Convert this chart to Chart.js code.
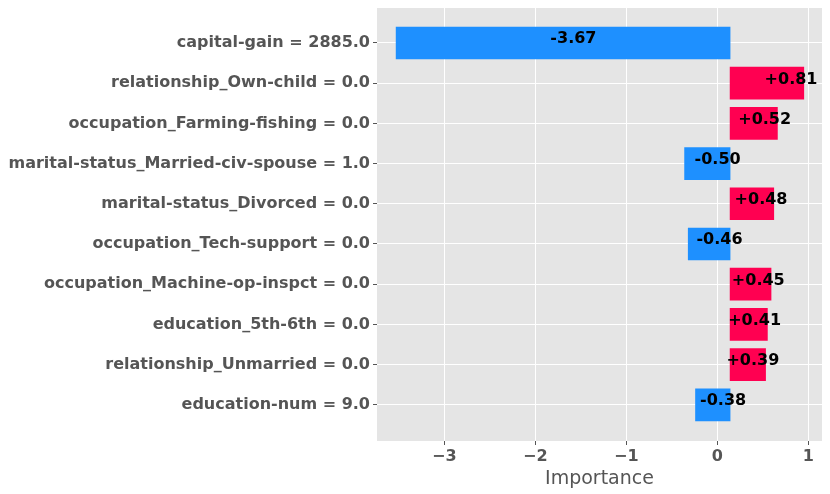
<!DOCTYPE html>
<html>
<head>
<meta charset="utf-8">
<script src="https://cdn.jsdelivr.net/npm/chart.js@4/dist/chart.umd.min.js"></script>
<style>
  html, body { margin: 0; padding: 0; background: #fff; }
  #wrap { width: 830px; height: 494px; }
</style>
</head>
<body>
<div id="wrap"><canvas id="chart"></canvas></div>
<script>
// feature labels, top to bottom
const features = [
  'capital-gain = 2885.0',
  'relationship_Own-child = 0.0',
  'occupation_Farming-fishing = 0.0',
  'marital-status_Married-civ-spouse = 1.0',
  'marital-status_Divorced = 0.0',
  'occupation_Tech-support = 0.0',
  'occupation_Machine-op-inspct = 0.0',
  'education_5th-6th = 0.0',
  'relationship_Unmarried = 0.0',
  'education-num = 9.0'
];
const importance = [-3.67, 0.81, 0.52, -0.50, 0.48, -0.46, 0.45, 0.41, 0.39, -0.38];
const baseValue = 0.14;   // bars start from here
const xTicks = [-3, -2, -1, 0, 1];

const posColor = '#FF0051';
const negColor = '#1E90FF';

// grey panel behind the plot
const panelBg = {
  id: 'panelBg',
  beforeDraw(chart) {
    const { ctx, chartArea: a } = chart;
    ctx.save();
    ctx.fillStyle = '#E5E5E5';
    ctx.fillRect(a.left, a.top, a.right - a.left, a.bottom - a.top);
    ctx.restore();
  }
};

// value text on each bar
const barText = {
  id: 'barText',
  afterDatasetsDraw(chart) {
    const { ctx, scales } = chart;
    ctx.save();
    ctx.font = 'bold 16px "DejaVu Sans"';
    ctx.fillStyle = '#000';
    ctx.textBaseline = 'alphabetic';
    importance.forEach((v, i) => {
      const y = scales.y.getPixelForValue(i) + 0.5;
      let txt, x;
      if (v >= 0) {
        txt = '+' + v.toFixed(2);
        x = scales.x.getPixelForValue(v);
        ctx.textAlign = 'center';
      } else {
        txt = v.toFixed(2);
        x = scales.x.getPixelForValue(v / 2);
        ctx.textAlign = 'left';
      }
      ctx.fillText(txt, x, y);
    });
    ctx.restore();
  }
};

const points = importance.map((v, i) => ({ x: [baseValue, baseValue + v], y: i }));

const ctx = document.getElementById('chart').getContext('2d');
new Chart(ctx, {
  type: 'bar',
  data: {
    datasets: [{
      data: points,
      backgroundColor: importance.map(v => v >= 0 ? posColor : negColor),
      borderWidth: 0,
      barThickness: 32
    }]
  },
  plugins: [panelBg, barText],
  options: {
    indexAxis: 'y',
    responsive: true,
    maintainAspectRatio: false,
    animation: false,
    layout: { padding: { left: 0, right: 8, top: 8, bottom: 0 } },
    plugins: { legend: { display: false }, tooltip: { enabled: false } },
    scales: {
      x: {
        type: 'linear',
        min: -3.74,
        max: 1.15,
        afterBuildTicks: s => { s.ticks = xTicks.map(v => ({ value: v })); },
        afterFit: s => { s.height = 53; s.paddingLeft = 0; s.paddingRight = 0; },
        ticks: {
          includeBounds: false,
          color: '#555',
          font: { family: 'DejaVu Sans', size: 16, weight: 'bold' },
          padding: 2,
          callback: v => v < 0 ? '\u2212' + Math.abs(v) : String(v)
        },
        grid: { color: '#fff', lineWidth: 1, tickLength: 4, tickColor: '#555' },
        border: { display: false },
        title: {
          display: true,
          text: 'Importance',
          color: '#555',
          font: { family: 'DejaVu Sans', size: 19 },
          padding: { top: 0, bottom: 4 }
        }
      },
      y: {
        type: 'linear',
        reverse: true,
        offset: false,
        min: -0.87,
        max: 9.9,
        afterBuildTicks: s => { s.ticks = features.map((_, i) => ({ value: i })); },
        afterFit: s => { s.width = 377; s.paddingTop = 0; s.paddingBottom = 0; },
        ticks: {
          includeBounds: false,
          color: '#555',
          font: { family: 'DejaVu Sans', size: 16, weight: 'bold' },
          padding: 3,
          callback: v => features[v]
        },
        grid: { offset: false, color: '#fff', lineWidth: 1, tickLength: 4, tickColor: '#555' },
        border: { display: false }
      }
    }
  }
});
</script>
</body>
</html>
